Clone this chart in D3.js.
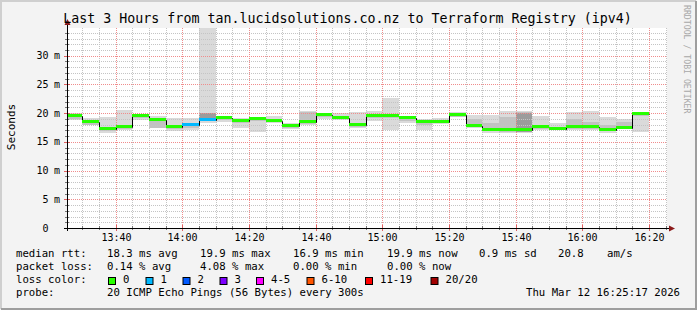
<!DOCTYPE html>
<html>
<head>
<meta charset="utf-8">
<script src="https://cdn.jsdelivr.net/npm/d3@7"></script>
<style>
  html, body { margin: 0; padding: 0; background: #f3f3f3; overflow: hidden; }
  svg { display: block; }
  text { font-family: "DejaVu Sans Mono", monospace; fill: #000; }
</style>
</head>
<body>
<svg width="697" height="310"></svg>
<script>
// step end times (5 minute steps), medians and smoke ranges in ms
var stepEnds = ["13:30","13:35","13:40","13:45","13:50","13:55","14:00","14:05","14:10","14:15",
    "14:20","14:25","14:30","14:35","14:40","14:45","14:50","14:55","15:00","15:05",
    "15:10","15:15","15:20","15:25","15:30","15:35","15:40","15:45","15:50","15:55",
    "16:00","16:05","16:10","16:15","16:20"];
var median = [19.47,18.4,17.3,17.6,19.47,18.8,17.55,17.9,18.85,19.1,
    18.7,19.0,18.65,17.75,18.5,19.6,19.15,17.9,19.45,19.5,
    19.07,18.45,18.45,19.68,17.85,17.06,16.98,16.98,17.59,17.3,
    17.54,17.54,17.12,17.44,19.88];
var smokeMax = [19.97,19.2,19.4,20.55,19.8,19.5,19.2,19.2,34.8,19.55,
    19.1,19.4,19.55,18.3,20.3,19.97,19.97,20.15,20.37,22.7,
    19.5,18.93,19.1,20.2,19.68,19.73,20.37,20.37,19.5,18.23,
    20.25,20.37,19.4,19.0,20.25];
var smokeMin = [18.8,17.9,16.6,17.06,18.8,17.46,16.9,17.06,18.2,18.5,
    17.36,16.66,18.23,17.18,17.9,18.93,18.8,17.36,18.7,17.06,
    18.23,17.06,18.05,19.27,17.36,16.6,16.5,16.5,17.06,17.06,
    17.06,17.06,16.5,17.2,16.8];
var innerHi = [19.6,18.5,17.5,17.8,19.6,18.6,17.6,18.0,20.1,19.2,
    18.8,19.1,18.8,17.9,20.2,19.7,19.3,18.1,19.6,19.7,
    19.2,18.6,18.6,19.8,19.0,18.2,19.4,20.15,17.8,17.5,
    19.0,18.5,18.0,18.5,20.0];
var innerLo = [19.0,18.0,16.9,17.3,19.2,17.5,17.2,17.5,18.8,18.8,
    18.2,18.6,18.4,17.5,18.1,19.3,18.9,17.6,19.2,19.2,
    18.7,18.0,18.2,19.4,17.6,17.06,16.8,16.8,17.3,17.1,
    17.3,17.3,16.9,17.3,19.5];
var coreHi = [null,null,null,null,null,null,null,null,20.1,null,
    null,null,null,null,null,null,null,null,null,null,
    null,null,null,null,null,null,null,20.1,null,null,
    null,null,null,null,null];
var coreLo = [null,null,null,null,null,null,null,null,19.0,null,
    null,null,null,null,null,null,null,null,null,null,
    null,null,null,null,null,null,null,16.8,null,null,
    null,null,null,null,null];
var loss = [0,0,0,0,0,0,0,1,1,0,0,0,0,0,0,0,0,0,0,0,0,0,0,0,0,0,0,0,0,0,0,0,0,0,0];

var lossLabels = ["0","1","2","3","4-5","6-10","11-19","20/20"];
var lossColors = ["#26ff00","#00b8ff","#0059ff","#7e00ff","#ff00ff","#ff5500","#ff0000","#a10000"];
var yTicks = [0,5,10,15,20,25,30];

var svg = d3.select("svg");
var W = 697, H = 310;
var parse = d3.timeParse("%Y-%m-%d %H:%M:%S");
var tStart = parse("2026-03-12 13:25:17");
var tEnd = parse("2026-03-12 16:25:17");
var day = "2026-03-12 ";

var plot = {l: 67, r: 667, t: 28, b: 228};
var x = d3.scaleTime().domain([tStart, tEnd]).range([plot.l, plot.r]);
var y = d3.scaleLinear().domain([0, 34.83]).range([plot.b, plot.t]);
// pixel snapped positions, like rrdtool
function px(t) { return Math.floor(x(t)); }
function py(v) { return Math.round(y(v)); }

// frame
svg.append("rect").attr("width", W).attr("height", H).attr("fill", "#f3f3f3");
svg.append("path").attr("d", "M1,309 V1 H696").attr("fill", "none").attr("stroke", "#cfcfcf").attr("stroke-width", 2);
svg.append("path").attr("d", "M1,309 H696 V1").attr("fill", "none").attr("stroke", "#9e9e9e").attr("stroke-width", 2);
svg.append("rect").attr("x", plot.l).attr("y", plot.t)
    .attr("width", plot.r - plot.l).attr("height", plot.b - plot.t).attr("fill", "#ffffff");

// steps
var steps = stepEnds.map(function(s, i) {
    var end = parse(day + s + ":00");
    var start = d3.timeMinute.offset(end, -5);
    if (start < tStart) start = tStart;
    return {x0: start, x1: end, med: median[i], max: smokeMax[i], min: smokeMin[i],
        hi: innerHi[i], lo: innerLo[i], chi: coreHi[i], clo: coreLo[i], loss: loss[i]};
});

function band(sel, hiKey, loKey, color) {
    sel.selectAll(null)
        .data(steps.filter(function(d) { return d[hiKey] != null; }))
        .enter().append("rect")
        .attr("x", function(d) { return px(d.x0); })
        .attr("width", function(d) { return px(d.x1) - px(d.x0); })
        .attr("y", function(d) { return py(d[hiKey]); })
        .attr("height", function(d) { return py(d[loKey]) - py(d[hiKey]); })
        .attr("fill", color);
}
var smoke = svg.append("g");
band(smoke, "max", "min", "#dadada");
band(smoke, "hi", "lo", "#c2c2c2");
band(smoke, "chi", "clo", "#9c9c9c");

// grid, drawn as 1px dots
function hDots(yy, xa, xb) {
    var p = "";
    for (var i = xa; i < xb; i += 2) p += "M" + i + "," + yy + "h1v1h-1z";
    return p;
}
function vDots(xx, ya, yb) {
    var p = "";
    for (var i = ya; i < yb; i += 2) p += "M" + xx + "," + i + "h1v1h-1z";
    return p;
}
var grid = svg.append("g");
var minorY = d3.range(1, 35).filter(function(v) { return v % 5 != 0; });
var minorX = d3.timeMinute.every(5).range(tStart, tEnd).filter(function(t) { return t.getMinutes() % 20 != 0; });
var majorX = d3.timeMinute.every(5).range(tStart, tEnd).filter(function(t) { return t.getMinutes() % 20 == 0; });
grid.append("path").attr("fill", "#c4c4c4").attr("d",
    minorY.map(function(v) { return hDots(py(v), plot.l, plot.r); }).join("") +
    minorX.map(function(t) { return vDots(px(t), plot.t, plot.b); }).join(""));
grid.append("path").attr("fill", "#f08c8c").attr("d",
    yTicks.slice(1).map(function(v) { return hDots(py(v), plot.l, plot.r); }).join("") +
    majorX.map(function(t) { return vDots(px(t), plot.t, plot.b); }).join(""));

// axis ticks
var ticks = svg.append("g").attr("shape-rendering", "crispEdges");
ticks.selectAll(".ty").data(minorY).enter().append("line")
    .attr("x1", plot.l - 2).attr("x2", plot.l + 2)
    .attr("y1", function(d) { return py(d) + 0.5; })
    .attr("y2", function(d) { return py(d) + 0.5; })
    .attr("stroke", "#777");
ticks.selectAll(".tY").data(yTicks.slice(1)).enter().append("line")
    .attr("x1", plot.l - 3).attr("x2", plot.l + 3)
    .attr("y1", function(d) { return py(d) + 0.5; })
    .attr("y2", function(d) { return py(d) + 0.5; })
    .attr("stroke", "#e06060");
ticks.selectAll(".tx").data(minorX).enter().append("line")
    .attr("y1", plot.b - 2).attr("y2", plot.b + 2)
    .attr("x1", function(d) { return px(d) + 0.5; })
    .attr("x2", function(d) { return px(d) + 0.5; })
    .attr("stroke", "#777");
ticks.selectAll(".tX").data(majorX).enter().append("line")
    .attr("y1", plot.b - 3).attr("y2", plot.b + 3)
    .attr("x1", function(d) { return px(d) + 0.5; })
    .attr("x2", function(d) { return px(d) + 0.5; })
    .attr("stroke", "#e06060");

// median: black step line + loss coloured bars
var pts = [];
steps.forEach(function(d) { pts.push([d.x0, d.med]); pts.push([d.x1, d.med]); });
svg.append("path")
    .attr("d", d3.line().x(function(p) { return px(p[0]) + 0.5; }).y(function(p) { return py(p[1]) + 0.5; })(pts))
    .attr("fill", "none").attr("stroke", "#000").attr("stroke-width", 1);
svg.append("g").selectAll("rect").data(steps).enter().append("rect")
    .attr("x", function(d) { return px(d.x0); })
    .attr("width", function(d) { return px(d.x1) - px(d.x0); })
    .attr("y", function(d) { return py(d.med) - 2; })
    .attr("height", 3)
    .attr("fill", function(d) { return lossColors[d.loss]; });

// axes
svg.append("line").attr("x1", plot.l + 0.5).attr("x2", plot.l + 0.5).attr("y1", plot.b + 3).attr("y2", plot.t - 4)
    .attr("stroke", "#000");
svg.append("line").attr("x1", plot.l - 3).attr("x2", plot.r + 3).attr("y1", plot.b + 0.5).attr("y2", plot.b + 0.5)
    .attr("stroke", "#000");
svg.append("path").attr("d", "M" + (plot.l - 2.5) + "," + (plot.t - 3) + " L" + (plot.l + 0.5) + "," + (plot.t - 9) + " L" + (plot.l + 3.5) + "," + (plot.t - 3) + "Z")
    .attr("fill", "#8b1a1a");
svg.append("path").attr("d", "M" + (plot.r + 2) + "," + (plot.b - 2.5) + " L" + (plot.r + 8) + "," + (plot.b + 0.5) + " L" + (plot.r + 2) + "," + (plot.b + 3.5) + "Z")
    .attr("fill", "#8b1a1a");

// y labels
var yl = svg.append("g").style("font-size", "10px");
yl.selectAll(".num").data(yTicks).enter().append("text")
    .attr("x", 48.5).attr("y", function(d) { return y(d) + 3.5; })
    .attr("text-anchor", "end").text(function(d) { return d; });
yl.selectAll(".unit").data(yTicks.slice(1)).enter().append("text")
    .attr("x", 54).attr("y", function(d) { return y(d) + 3.5; })
    .text("m");

// x labels
svg.append("g").style("font-size", "10px").selectAll("text").data(majorX).enter().append("text")
    .attr("x", function(d) { return px(d) + 0.5; }).attr("y", 241)
    .attr("text-anchor", "middle").text(d3.timeFormat("%H:%M"));

// titles
svg.append("text").attr("x", 347.5).attr("y", 23).attr("text-anchor", "middle")
    .style("font-size", "13.3px")
    .text("Last 3 Hours from tan.lucidsolutions.co.nz to Terraform Registry (ipv4)");
svg.append("text").attr("transform", "translate(15,127) rotate(-90)").attr("text-anchor", "middle")
    .style("font-size", "11px").text("Seconds");
svg.append("text").attr("transform", "translate(684,5) rotate(90)")
    .style("font-size", "8.2px").style("fill", "#a8a8a8").text("RRDTOOL / TOBI OETIKER");

// legend
var leg = svg.append("g").style("font-size", "10.67px");
var rows = [
    [[16, "median rtt:"], [107, "18.3 ms avg"], [200, "19.9 ms max"], [293, "16.9 ms min"], [387, "19.9 ms now"], [479, "0.9 ms sd"], [558, "20.8"], [607, "am/s"]],
    [[16, "packet loss:"], [107, "0.14 % avg"], [200, "4.08 % max"], [293, "0.00 % min"], [387, "0.00 % now"]],
    [[16, "loss color:"]],
    [[16, "probe:"], [107, "20 ICMP Echo Pings (56 Bytes) every 300s"]]
];
var rowY = [257, 270, 283, 296];
rows.forEach(function(r, i) {
    leg.selectAll(null).data(r).enter().append("text")
        .attr("x", function(d) { return d[0]; }).attr("y", rowY[i])
        .attr("xml:space", "preserve").text(function(d) { return d[1]; });
});
leg.append("text").attr("x", 680).attr("y", rowY[3]).attr("text-anchor", "end").text("Thu Mar 12 16:25:17 2026");

var swX = [108, 145.5, 182.5, 219.5, 256, 306.5, 365, 430.5];
lossLabels.forEach(function(lab, i) {
    leg.append("rect").attr("x", swX[i] + 0.5).attr("y", 277.5).attr("width", 7).attr("height", 7)
        .attr("fill", lossColors[i]).attr("stroke", "#000");
    leg.append("text").attr("x", swX[i] + 15).attr("y", rowY[2]).text(lab);
});
</script>
</body>
</html>
